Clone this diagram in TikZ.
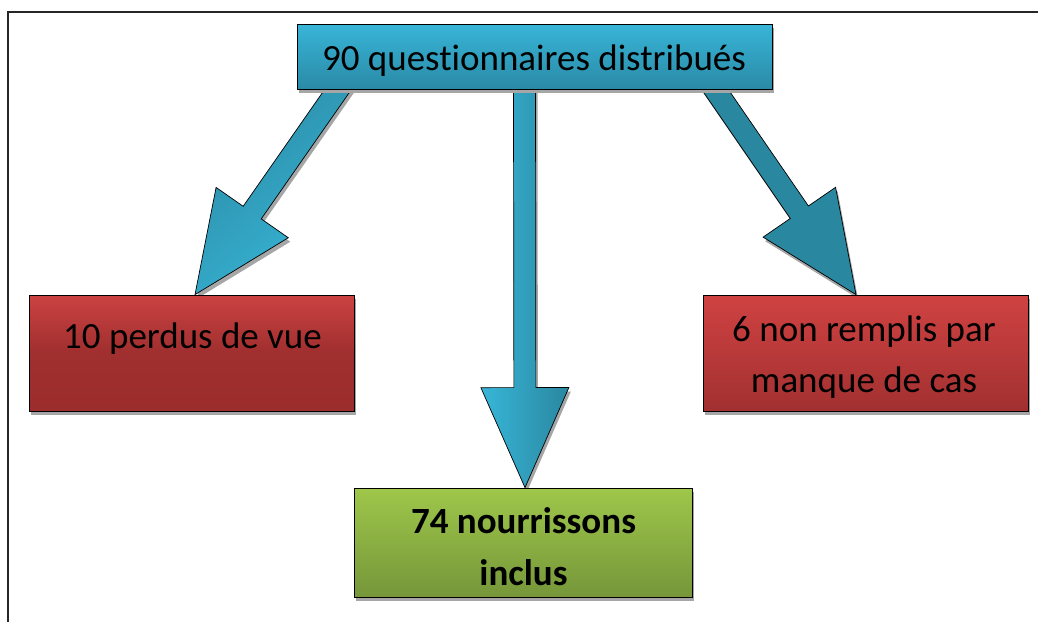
\documentclass[tikz,border=0pt]{standalone}
\usepackage{fontspec}
\setmainfont{Carlito}[Ligatures={NoCommon}]
\usetikzlibrary{calc,shadows}
\pgfdeclarelayer{bg}
\pgfsetlayers{bg,main}
\definecolor{bluetop}{RGB}{56,181,216}
\definecolor{bluebot}{RGB}{42,138,166}
\definecolor{arrdark}{RGB}{42,135,160}
\definecolor{arrmid}{RGB}{46,152,182}
\definecolor{arrlight}{RGB}{56,182,216}
\definecolor{redtop}{RGB}{204,66,66}
\definecolor{redbot}{RGB}{156,45,45}
\definecolor{redtopb}{RGB}{208,66,66}
\definecolor{redbotb}{RGB}{162,48,48}
\definecolor{greentop}{RGB}{158,199,74}
\definecolor{greenbot}{RGB}{118,150,58}
\newcommand\myarrow[3]{%
  \coordinate (hb) at ($(#2)!100pt!(#1)$);
  \coordinate (s0) at ($(#1)!-40pt!(#2)$);
  \path[blockarr,#3] ($(s0)!11pt!90:(#2)$) -- ($(hb)!11pt!90:(#2)$) -- ($(hb)!44pt!90:(#2)$) -- (#2)
     -- ($(hb)!44pt!-90:(#2)$) -- ($(hb)!11pt!-90:(#2)$) -- ($(s0)!11pt!-90:(#2)$) -- cycle;
}
\begin{document}
\begin{tikzpicture}[x=1pt,y=-1pt,
  shd/.style={drop shadow={shadow xshift=2pt,shadow yshift=-4pt,fill=black!35,opacity=1}},
  box/.style={draw=black,line width=0.8pt,shd,inner sep=0pt},
  lbl/.style={anchor=base,font=\fontsize{37}{44}\selectfont,text=black,inner sep=0pt},
  blockarr/.style={draw=black,line width=0.7pt,shd},
  frame/.style={draw=black!85,line width=1.6pt}]
\useasboundingbox (0,0) rectangle (1038,621);
\clip (0,0) rectangle (1038,621);
\draw[frame] (8,12) rectangle (1070,680);
% boxes
\node[box,top color=bluetop,bottom color=bluebot,minimum width=475pt,minimum height=65pt] (top) at (534.5,56.5) {};
\node[box,top color=redtop,bottom color=redbot,middle color=redbot!92!redtop,minimum width=325pt,minimum height=116pt] (left) at (191.5,353) {};
\node[box,top color=redtopb,bottom color=redbotb,minimum width=325pt,minimum height=116pt] (right) at (865.5,353) {};
\node[box,top color=greentop,bottom color=greenbot,minimum width=338pt,minimum height=109pt] (bottom) at (523,542.5) {};
% texts
\node[lbl] (ttop) at (534,70) {90 questionnaires distribués};
\node[lbl] (tleft) at (192.5,348) {10 perdus de vue};
\node[lbl] (tright1) at (864,341) {6 non remplis par};
\node[lbl] (tright2) at (864,392) {manque de cas};
\node[lbl,font=\fontsize{37}{44}\selectfont\bfseries] (tbot1) at (523.5,533) {74 nourrissons};
\node[lbl,font=\fontsize{37}{44}\selectfont\bfseries] (tbot2) at (523.5,585) {inclus};
% arrows
\coordinate (sl) at ($(top.south west)+(41.5,0)$);
\coordinate (tl) at ($(left.north)+(3.5,0)$);
\coordinate (sm) at ($(top.south)+(-10,0)$);
\coordinate (tm) at ($(bottom.north)+(2,0)$);
\coordinate (sr) at ($(top.south east)+(-57.5,0)$);
\coordinate (tr) at ($(right.north)+(-9.5,0)$);
\begin{pgfonlayer}{bg}
\myarrow{sl}{tl}{top color=arrdark,bottom color=arrlight,shading angle=40}
\myarrow{sm}{tm}{left color=arrlight,right color=arrdark}
\myarrow{sr}{tr}{fill=arrdark}
\end{pgfonlayer}
\end{tikzpicture}
\end{document}
